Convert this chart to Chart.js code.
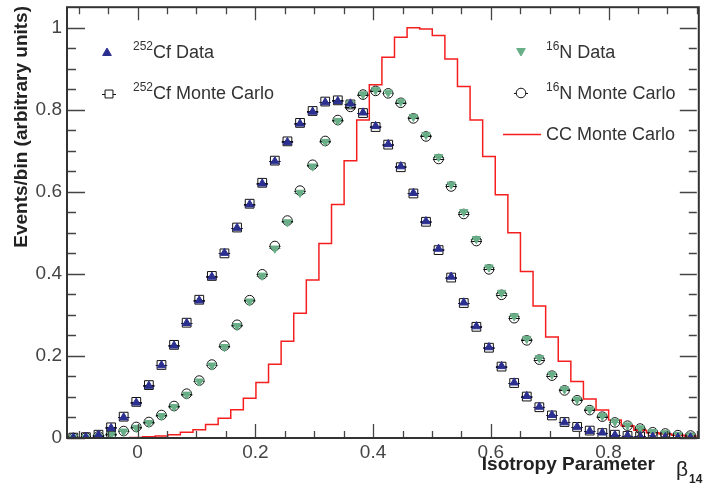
<!DOCTYPE html>
<html>
<head>
<meta charset="utf-8">
<script src="https://cdn.jsdelivr.net/npm/chart.js@4.4.1/dist/chart.umd.min.js"></script>
<style>
  html, body { margin: 0; padding: 0; background: #fff; }
  canvas { display: block; }
</style>
</head>
<body>
<canvas id="isoChart" width="704" height="489"></canvas>
<script>
// beta14 histogram range, 50 equal bins
var xLow = -0.12, xHigh = 0.95, nBins = 50;

// 252Cf source, data and MC (normalised to peak of CC)
var cfData = [0.001, 0.002, 0.007, 0.024, 0.050, 0.086, 0.127, 0.177, 0.225, 0.280,
              0.335, 0.393, 0.451, 0.512, 0.569, 0.620, 0.674, 0.721, 0.766, 0.795,
              0.818, 0.821, 0.815, 0.793, 0.760, 0.716, 0.662, 0.597, 0.528, 0.461,
              0.393, 0.330, 0.272, 0.221, 0.175, 0.135, 0.102, 0.076, 0.056, 0.038,
              0.027, 0.017, 0.013, 0.007, 0.006, 0.004, 0.003, 0.002, 0.001, 0.001];
var cfMC   = [0.001, 0.002, 0.008, 0.026, 0.052, 0.088, 0.129, 0.178, 0.227, 0.281,
              0.337, 0.395, 0.450, 0.513, 0.571, 0.622, 0.676, 0.723, 0.768, 0.797,
              0.820, 0.823, 0.813, 0.792, 0.758, 0.715, 0.660, 0.596, 0.527, 0.458,
              0.391, 0.329, 0.271, 0.220, 0.174, 0.134, 0.101, 0.075, 0.055, 0.039,
              0.027, 0.018, 0.012, 0.008, 0.005, 0.004, 0.003, 0.002, 0.001, 0.001];

// 16N source, data and MC
var nData  = [0.001, 0.001, 0.003, 0.008, 0.016, 0.025, 0.037, 0.054, 0.076, 0.106,
              0.138, 0.177, 0.222, 0.273, 0.333, 0.396, 0.462, 0.526, 0.598, 0.662,
              0.722, 0.773, 0.815, 0.838, 0.848, 0.842, 0.820, 0.783, 0.739, 0.685,
              0.618, 0.551, 0.485, 0.416, 0.354, 0.297, 0.242, 0.195, 0.155, 0.119,
              0.094, 0.070, 0.054, 0.040, 0.031, 0.024, 0.015, 0.012, 0.008, 0.006];
var nMC    = [0.000, 0.001, 0.004, 0.009, 0.017, 0.027, 0.039, 0.056, 0.078, 0.108,
              0.140, 0.179, 0.225, 0.276, 0.336, 0.399, 0.468, 0.530, 0.603, 0.666,
              0.724, 0.775, 0.807, 0.837, 0.846, 0.840, 0.817, 0.779, 0.735, 0.680,
              0.613, 0.546, 0.480, 0.411, 0.349, 0.292, 0.238, 0.191, 0.152, 0.116,
              0.092, 0.068, 0.052, 0.038, 0.030, 0.023, 0.014, 0.011, 0.007, 0.006];

// charged-current signal MC
var ccMC   = [0.000, 0.000, 0.000, 0.000, 0.000, 0.001, 0.003, 0.005, 0.008, 0.014,
              0.020, 0.033, 0.048, 0.069, 0.097, 0.135, 0.180, 0.236, 0.304, 0.385,
              0.474, 0.569, 0.676, 0.775, 0.861, 0.928, 0.977, 1.000, 0.997, 0.981,
              0.924, 0.857, 0.775, 0.686, 0.593, 0.500, 0.406, 0.322, 0.246, 0.187,
              0.138, 0.095, 0.068, 0.044, 0.030, 0.019, 0.013, 0.010, 0.007, 0.005];

var xMajorTicks = [0, 0.2, 0.4, 0.6, 0.8];
var yMajorTicks = [0, 0.2, 0.4, 0.6, 0.8, 1];

var binWidth = (xHigh - xLow) / nBins;

function centered(vals) {
  return vals.map(function (v, i) { return { x: xLow + (i + 0.5) * binWidth, y: v }; });
}
function edges(vals) {
  var pts = vals.map(function (v, i) { return { x: xLow + i * binWidth, y: v }; });
  pts.push({ x: xHigh, y: vals[vals.length - 1] });
  return pts;
}

var BLUE = '#2b2f8f';
var GREEN = '#68ae87';
var RED = '#f51e1e';
var FONT = '"Liberation Sans", Arial, sans-serif';

// horizontal bin-width bars under each marker
var binBars = {
  id: 'binBars',
  beforeDatasetsDraw: function (chart) {
    var c = chart.ctx, xs = chart.scales.x, ys = chart.scales.y;
    c.save();
    c.lineWidth = 1;
    chart.data.datasets.forEach(function (ds) {
      if (!ds.barColor) return;
      c.strokeStyle = ds.barColor;
      ds.data.forEach(function (p) {
        var py = Math.round(ys.getPixelForValue(p.y)) + 0.5;
        c.beginPath();
        c.moveTo(xs.getPixelForValue(p.x - 0.45 * binWidth), py);
        c.lineTo(xs.getPixelForValue(p.x + 0.45 * binWidth), py);
        c.stroke();
      });
    });
    c.restore();
  }
};

// frame, inward ticks on all four sides, titles and legend
var decorations = {
  id: 'decorations',
  afterDraw: function (chart) {
    var c = chart.ctx, a = chart.chartArea, xs = chart.scales.x, ys = chart.scales.y;
    c.save();

    c.strokeStyle = '#444';
    c.lineWidth = 1.3;
    var v, px, major;
    for (var k = -2; k <= 19; k++) {
      v = k * 0.05;
      px = Math.round(xs.getPixelForValue(v)) + 0.5;
      major = xMajorTicks.indexOf(+v.toFixed(2)) >= 0;
      c.beginPath();
      c.moveTo(px, a.bottom); c.lineTo(px, a.bottom - (major ? 14 : 7));
      c.moveTo(px, a.top); c.lineTo(px, a.top + (major ? 13 : 7));
      c.stroke();
    }
    for (k = 0; k <= 20; k++) {
      v = k * 0.05;
      px = Math.round(ys.getPixelForValue(v)) + 0.5;
      major = yMajorTicks.indexOf(+v.toFixed(2)) >= 0;
      c.beginPath();
      c.moveTo(a.left, px); c.lineTo(a.left + (major ? 18 : 9), px);
      c.moveTo(a.right, px); c.lineTo(a.right - (major ? 17 : 8), px);
      c.stroke();
    }

    c.strokeStyle = '#333';
    c.lineWidth = 2;
    c.strokeRect(a.left, a.top, a.right - a.left + 2, a.bottom - a.top);

    // axis titles
    c.fillStyle = '#222';
    c.font = 'bold 19px ' + FONT;
    c.textAlign = 'right';
    c.textBaseline = 'alphabetic';
    c.fillText('Isotropy Parameter', 655, 470);
    c.textAlign = 'left';
    c.font = '21px ' + FONT;
    c.fillText('\u03B2', 676, 476);
    c.font = 'bold 12px ' + FONT;
    c.fillText('14', 689, 483);

    c.save();
    c.translate(27, 6);
    c.rotate(-Math.PI / 2);
    c.textAlign = 'right';
    c.font = 'bold 19px ' + FONT;
    c.fillText('Events/bin (arbitrary units)', 0, 0);
    c.restore();

    // legend
    var H = Chart.helpers;
    function marker(x, y, style, rot, fill, stroke, r, bar) {
      if (bar) {
        c.strokeStyle = stroke; c.lineWidth = 1;
        c.beginPath(); c.moveTo(x - bar, y + 0.5); c.lineTo(x + bar, y + 0.5); c.stroke();
      }
      c.fillStyle = fill; c.strokeStyle = stroke; c.lineWidth = 1;
      H.drawPoint(c, { pointStyle: style, rotation: rot, radius: r, borderWidth: 1 }, x, y);
    }
    function label(x, base, sup, main) {
      c.fillStyle = '#333';
      c.textAlign = 'left';
      var w = 0;
      if (sup) {
        c.font = '12px ' + FONT;
        c.fillText(sup, x, base - 8);
        w = c.measureText(sup).width;
      }
      c.font = '18px ' + FONT;
      c.fillText(main, x + w, base);
    }

    marker(107, 53, 'triangle', 0, BLUE, BLUE, 5, 0);
    label(133, 58, '252', 'Cf Data');
    marker(109, 94, 'rect', 0, '#fff', '#111', 5.6, 7);
    label(133, 99, '252', 'Cf Monte Carlo');

    marker(521, 51, 'triangle', 180, GREEN, GREEN, 5, 0);
    label(546, 58, '16', 'N Data');
    marker(521, 93, 'circle', 0, '#fff', '#111', 4.8, 7);
    label(546, 99, '16', 'N Monte Carlo');

    c.strokeStyle = RED; c.lineWidth = 1.5;
    c.beginPath(); c.moveTo(503, 134.5); c.lineTo(541, 134.5); c.stroke();
    label(546, 140, '', 'CC Monte Carlo');

    c.restore();
  }
};

var ctx = document.getElementById('isoChart').getContext('2d');

new Chart(ctx, {
  type: 'scatter',
  data: {
    datasets: [{
        label: 'CC Monte Carlo',
        type: 'line',
        data: edges(ccMC),
        stepped: true,
        borderColor: RED,
        borderWidth: 1.5,
        pointRadius: 0,
        fill: false,
        order: 5
      }, {
        label: '252Cf Monte Carlo',
        data: centered(cfMC),
        pointStyle: 'rect',
        pointRadius: 6.2,
        borderColor: '#111',
        borderWidth: 1,
        backgroundColor: 'rgba(255,255,255,0)',
        barColor: '#111',
        order: 4
      }, {
        label: '16N Monte Carlo',
        data: centered(nMC),
        pointStyle: 'circle',
        pointRadius: 4.8,
        borderColor: '#111',
        borderWidth: 1,
        backgroundColor: 'rgba(255,255,255,0)',
        barColor: '#111',
        order: 3
      }, {
        label: '16N Data',
        data: centered(nData),
        pointStyle: 'triangle',
        rotation: 180,
        pointRadius: 4.8,
        borderColor: GREEN,
        borderWidth: 1,
        backgroundColor: GREEN,
        barColor: GREEN,
        order: 2
      }, {
        label: '252Cf Data',
        data: centered(cfData),
        pointStyle: 'triangle',
        pointRadius: 4.8,
        borderColor: BLUE,
        borderWidth: 1,
        backgroundColor: BLUE,
        barColor: BLUE,
        order: 1
      }
    ]
  },
  options: {
    responsive: false,
    animation: false,
    devicePixelRatio: 1,
    layout: { padding: { top: 5, right: 0, bottom: 0, left: 0 } },
    plugins: {
      legend: { display: false },
      tooltip: { enabled: false }
    },
    scales: {
      x: {
        type: 'linear',
        min: xLow,
        max: xHigh,
        grid: { display: false, drawTicks: false },
        border: { display: false },
        ticks: {
          stepSize: 0.2,
          includeBounds: false,
          padding: 3,
          color: '#444',
          font: { size: 19, family: FONT },
          callback: function (v) { return Math.abs(v) < 1e-9 ? '0' : String(+v.toFixed(1)); }
        },
        afterFit: function (s) { s.height = 51; s.paddingLeft = 0; s.paddingRight = 0; }
      },
      y: {
        min: 0,
        max: 1.05,
        grid: { display: false, drawTicks: false },
        border: { display: false },
        ticks: {
          stepSize: 0.2,
          includeBounds: false,
          padding: 5,
          color: '#444',
          font: { size: 19, family: FONT },
          callback: function (v) { return Math.abs(v) < 1e-9 ? '0' : String(+v.toFixed(1)); }
        },
        afterFit: function (s) { s.width = 67; s.paddingTop = 0; s.paddingBottom = 0; }
      }
    }
  },
  plugins: [binBars, decorations]
});
</script>
</body>
</html>
